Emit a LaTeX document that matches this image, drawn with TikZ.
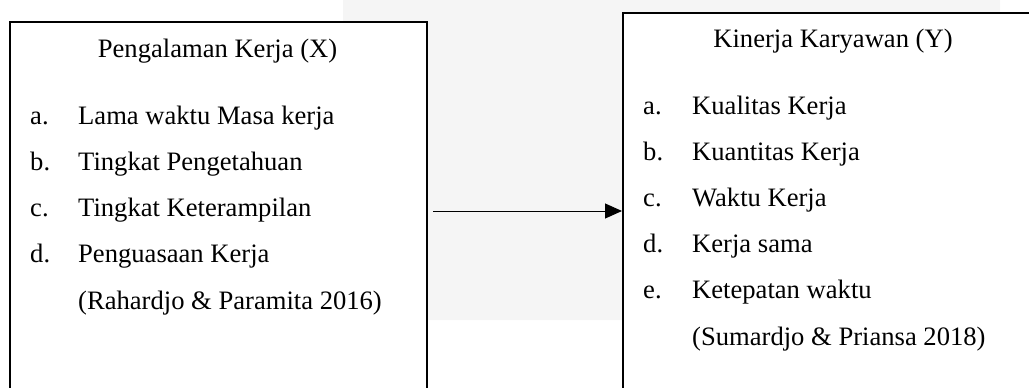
\documentclass[tikz,border=0pt]{standalone}
\usepackage{fontspec}
\setmainfont{Liberation Serif}
\usetikzlibrary{arrows.meta,positioning}

\begin{document}
\begin{tikzpicture}[x=1pt,y=-1pt,
                    every node/.style={font=\fontsize{26.6}{32}\selectfont,inner sep=0pt},
                    kotak/.style={draw,rectangle,line width=2pt,fill=white},
                    butir/.style={anchor=base west},
                    every path/.style={>={Triangle[length=17pt,width=15pt]}}]

\useasboundingbox (0,0) rectangle (1029,388);
\clip (0,0) rectangle (1029,388);
\fill[gray!8,rounded corners=20pt] (343,-20) rectangle (1000,320);

\node[kotak,anchor=north west,minimum width=417pt,minimum height=400pt] (px) at (9,21) {};
\node[kotak,anchor=north west,minimum width=440pt,minimum height=400pt] (ky) at (622,12) {};

\node[anchor=base] (judulx) at (217.5,57) {Pengalaman Kerja (X)};
\node[anchor=base] (juduly) at (833,47) {Kinerja Karyawan (Y)};

\foreach \h/\t [count=\i] in {a./Lama waktu Masa kerja,b./Tingkat Pengetahuan,
                              c./Tingkat Keterampilan,d./Penguasaan Kerja}
  {\node[butir] (hx\i) at (30,{124+46.2*(\i-1)}) {\h};
   \node[butir] (tx\i) at (78,{124+46.2*(\i-1)}) {\t};}
\node[butir] (sumberx) at (78,309) {(Rahardjo \& Paramita 2016)};

\foreach \h/\t [count=\i] in {a./Kualitas Kerja,b./Kuantitas Kerja,c./Waktu Kerja,
                              d./Kerja sama,e./Ketepatan waktu}
  {\node[butir] (hy\i) at (643,{114+46.2*(\i-1)}) {\h};
   \node[butir] (ty\i) at (692,{114+46.2*(\i-1)}) {\t};}
\node[butir] (sumbery) at (692,345) {(Sumardjo \& Priansa 2018)};

\coordinate (pangkal) at (433,211);
\draw[->,line width=1pt] (pangkal) -- (pangkal -| ky.west);

\end{tikzpicture}
\end{document}
